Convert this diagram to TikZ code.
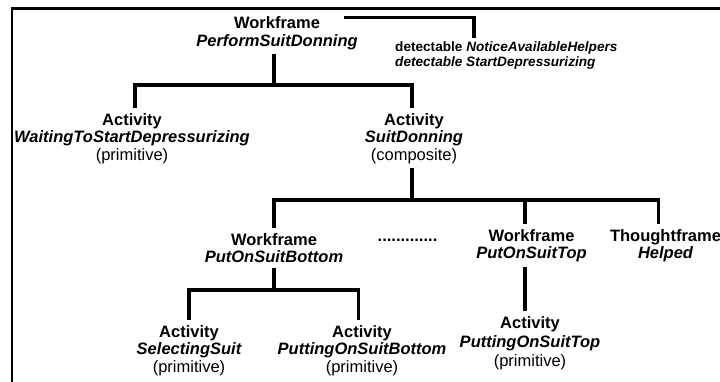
\documentclass[tikz,border=0pt]{standalone}
\usepackage{fontspec}
\setmainfont{Liberation Sans}
\begin{document}
\begin{tikzpicture}[x=1pt,y=-1pt,
  lbl/.style={inner sep=0pt,outer sep=5pt,align=center,anchor=base,
    font=\fontsize{16.5}{17.5}\selectfont\bfseries},
  conn/.style={line width=3.2pt,line join=miter},
  frame/.style={line width=2.5pt}]
\useasboundingbox (0,0) rectangle (720,381);
\fill[white] (0,0) rectangle (720,381);
\draw[frame] (12,382) -- (12,8.5) -- (722,8.5);

% anchor=base is the baseline of the last line
\node[lbl] (wf1) at (277,46) {Workframe\\{\itshape PerformSuitDonning}};
\node[inner sep=0pt,anchor=base west,align=left,
  font=\fontsize{13.6}{15}\selectfont\bfseries] (det) at (395,66)
  {detectable {\itshape NoticeAvailableHelpers}\\{\itshape detectable StartDepressurizing}};
\node[lbl] (a1) at (132,160) {Activity\\{\itshape WaitingToStartDepressurizing}\\{\mdseries (primitive)}};
\node[lbl] (a2) at (414,160) {Activity\\{\itshape SuitDonning}\\{\mdseries (composite)}};
\node[lbl] (wf2) at (274,262.5) {Workframe\\{\itshape PutOnSuitBottom}};
\node[lbl] (dots) at (407.5,241) {.............};
\node[lbl] (wf3) at (531.5,258.5) {Workframe\\{\itshape PutOnSuitTop}};
\node[lbl] (tf) at (665.5,258.5) {Thoughtframe\\{\itshape Helped}};
\node[lbl] (a3) at (189,372) {Activity\\{\itshape SelectingSuit}\\{\mdseries (primitive)}};
\node[lbl] (a4) at (362,372) {Activity\\{\itshape PuttingOnSuitBottom}\\{\mdseries (primitive)}};
\node[lbl,font=\fontsize{16.5}{19}\selectfont\bfseries] (a5) at (530,366) {Activity\\{\itshape PuttingOnSuitTop}\\{\mdseries (primitive)}};

\draw[conn] ([xshift=-19pt,yshift=-6pt]wf1.north east) -| ([xshift=79pt,yshift=3pt]det.north west);

\coordinate (bar1) at (274,85);
\draw[conn] ([xshift=-3pt]wf1.south) -- (bar1);
\draw[conn] ([xshift=3pt]a1.north) |- (bar1) -| ([xshift=-2pt]a2.north);

\coordinate (bar2) at (412,200);
\draw[conn] ([xshift=-2pt]a2.south) -- (bar2);
\draw[conn] (wf2.north) |- (bar2) -| ([xshift=-7pt]tf.north);
\draw[conn] ([xshift=-6.5pt]wf3.north) -- ([xshift=-6.5pt]wf3.north |- bar2);

\coordinate (bar3) at (274,290);
\draw[conn] (wf2.south) -- (bar3);
\draw[conn] (a3.north) |- (bar3) -| ([xshift=-3.5pt]a4.north);

\draw[conn] ([xshift=-6.5pt]wf3.south) -- ([xshift=-5pt]a5.north);
\end{tikzpicture}
\end{document}
